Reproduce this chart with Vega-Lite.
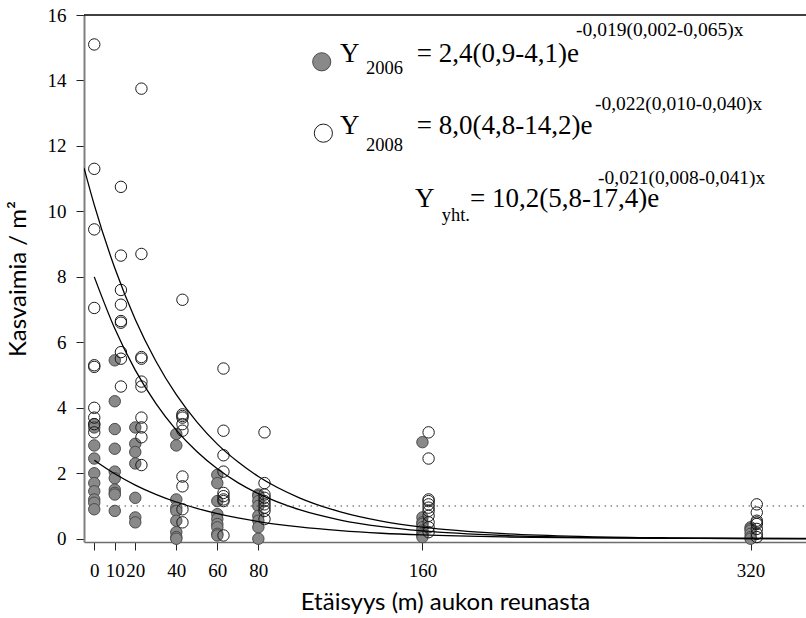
{
  "$schema": "https://vega.github.io/schema/vega-lite/v6.json",
  "width": 722,
  "height": 527,
  "autosize": {"type": "none"},
  "padding": {"left": 84, "top": 15, "right": 0, "bottom": 76},
  "background": "white",
  "config": {
    "font": "Liberation Serif",
    "view": {"stroke": null},
    "style": {"guide-label": {"font": "Liberation Serif"}, "guide-title": {"font": "Lato"}},
    "axis": {"grid": false, "labelColor": "black", "titleColor": "black", "tickColor": "#222222", "labelFont": "Liberation Serif", "titleFont": "Lato", "titleFontWeight": "normal"}
  },
  "datasets": {
    "pts": [
      {"x": 0, "y": 3.5, "year": "2006"}, {"x": 0, "y": 3.4, "year": "2006"}, {"x": 0, "y": 2.85, "year": "2006"}, {"x": 0, "y": 2.45, "year": "2006"}, {"x": 0, "y": 2.0, "year": "2006"}, {"x": 0, "y": 1.7, "year": "2006"}, {"x": 0, "y": 1.45, "year": "2006"}, {"x": 0, "y": 1.2, "year": "2006"}, {"x": 0, "y": 1.1, "year": "2006"}, {"x": 0, "y": 0.9, "year": "2006"},
      {"x": 10, "y": 5.45, "year": "2006"}, {"x": 10, "y": 4.2, "year": "2006"}, {"x": 10, "y": 3.35, "year": "2006"}, {"x": 10, "y": 2.75, "year": "2006"}, {"x": 10, "y": 2.05, "year": "2006"}, {"x": 10, "y": 1.85, "year": "2006"}, {"x": 10, "y": 1.5, "year": "2006"}, {"x": 10, "y": 1.4, "year": "2006"}, {"x": 10, "y": 1.35, "year": "2006"}, {"x": 10, "y": 0.85, "year": "2006"},
      {"x": 20, "y": 3.4, "year": "2006"}, {"x": 20, "y": 2.9, "year": "2006"}, {"x": 20, "y": 2.65, "year": "2006"}, {"x": 20, "y": 2.3, "year": "2006"}, {"x": 20, "y": 1.25, "year": "2006"}, {"x": 20, "y": 0.65, "year": "2006"}, {"x": 20, "y": 0.5, "year": "2006"},
      {"x": 40, "y": 3.2, "year": "2006"}, {"x": 40, "y": 2.85, "year": "2006"}, {"x": 40, "y": 1.2, "year": "2006"}, {"x": 40, "y": 0.95, "year": "2006"}, {"x": 40, "y": 0.85, "year": "2006"}, {"x": 40, "y": 0.55, "year": "2006"}, {"x": 40, "y": 0.2, "year": "2006"}, {"x": 40, "y": 0.05, "year": "2006"}, {"x": 40, "y": 0.0, "year": "2006"},
      {"x": 60, "y": 1.95, "year": "2006"}, {"x": 60, "y": 1.7, "year": "2006"}, {"x": 60, "y": 1.15, "year": "2006"}, {"x": 60, "y": 0.75, "year": "2006"}, {"x": 60, "y": 0.6, "year": "2006"}, {"x": 60, "y": 0.45, "year": "2006"}, {"x": 60, "y": 0.35, "year": "2006"}, {"x": 60, "y": 0.15, "year": "2006"}, {"x": 60, "y": 0.1, "year": "2006"},
      {"x": 80, "y": 1.35, "year": "2006"}, {"x": 80, "y": 1.3, "year": "2006"}, {"x": 80, "y": 1.15, "year": "2006"}, {"x": 80, "y": 1.0, "year": "2006"}, {"x": 80, "y": 0.7, "year": "2006"}, {"x": 80, "y": 0.55, "year": "2006"}, {"x": 80, "y": 0.35, "year": "2006"}, {"x": 80, "y": 0.0, "year": "2006"},
      {"x": 160, "y": 2.95, "year": "2006"}, {"x": 160, "y": 0.65, "year": "2006"}, {"x": 160, "y": 0.5, "year": "2006"}, {"x": 160, "y": 0.45, "year": "2006"}, {"x": 160, "y": 0.35, "year": "2006"}, {"x": 160, "y": 0.25, "year": "2006"}, {"x": 160, "y": 0.15, "year": "2006"}, {"x": 160, "y": 0.1, "year": "2006"}, {"x": 160, "y": 0.05, "year": "2006"},
      {"x": 320, "y": 0.35, "year": "2006"}, {"x": 320, "y": 0.3, "year": "2006"}, {"x": 320, "y": 0.25, "year": "2006"}, {"x": 320, "y": 0.15, "year": "2006"}, {"x": 320, "y": 0.05, "year": "2006"}, {"x": 320, "y": 0.0, "year": "2006"},
      {"x": 0, "y": 15.1, "year": "2008"}, {"x": 0, "y": 11.3, "year": "2008"}, {"x": 0, "y": 9.45, "year": "2008"}, {"x": 0, "y": 7.05, "year": "2008"}, {"x": 0, "y": 5.3, "year": "2008"}, {"x": 0, "y": 5.25, "year": "2008"}, {"x": 0, "y": 4.0, "year": "2008"}, {"x": 0, "y": 3.7, "year": "2008"}, {"x": 0, "y": 3.5, "year": "2008"}, {"x": 0, "y": 3.25, "year": "2008"},
      {"x": 13, "y": 10.75, "year": "2008"}, {"x": 13, "y": 8.65, "year": "2008"}, {"x": 13, "y": 7.6, "year": "2008"}, {"x": 13, "y": 7.15, "year": "2008"}, {"x": 13, "y": 6.65, "year": "2008"}, {"x": 13, "y": 6.6, "year": "2008"}, {"x": 13, "y": 5.7, "year": "2008"}, {"x": 13, "y": 5.5, "year": "2008"}, {"x": 13, "y": 4.65, "year": "2008"},
      {"x": 23, "y": 13.75, "year": "2008"}, {"x": 23, "y": 8.7, "year": "2008"}, {"x": 23, "y": 5.55, "year": "2008"}, {"x": 23, "y": 5.5, "year": "2008"}, {"x": 23, "y": 4.8, "year": "2008"}, {"x": 23, "y": 4.65, "year": "2008"}, {"x": 23, "y": 3.7, "year": "2008"}, {"x": 23, "y": 3.4, "year": "2008"}, {"x": 23, "y": 3.1, "year": "2008"}, {"x": 23, "y": 2.25, "year": "2008"},
      {"x": 43, "y": 7.3, "year": "2008"}, {"x": 43, "y": 3.8, "year": "2008"}, {"x": 43, "y": 3.75, "year": "2008"}, {"x": 43, "y": 3.7, "year": "2008"}, {"x": 43, "y": 3.5, "year": "2008"}, {"x": 43, "y": 3.3, "year": "2008"}, {"x": 43, "y": 1.9, "year": "2008"}, {"x": 43, "y": 1.6, "year": "2008"}, {"x": 43, "y": 0.9, "year": "2008"}, {"x": 43, "y": 0.5, "year": "2008"},
      {"x": 63, "y": 5.2, "year": "2008"}, {"x": 63, "y": 3.3, "year": "2008"}, {"x": 63, "y": 2.55, "year": "2008"}, {"x": 63, "y": 2.05, "year": "2008"}, {"x": 63, "y": 1.4, "year": "2008"}, {"x": 63, "y": 1.3, "year": "2008"}, {"x": 63, "y": 1.2, "year": "2008"}, {"x": 63, "y": 1.15, "year": "2008"}, {"x": 63, "y": 0.1, "year": "2008"},
      {"x": 83, "y": 3.25, "year": "2008"}, {"x": 83, "y": 1.7, "year": "2008"}, {"x": 83, "y": 1.35, "year": "2008"}, {"x": 83, "y": 1.25, "year": "2008"}, {"x": 83, "y": 1.15, "year": "2008"}, {"x": 83, "y": 1.05, "year": "2008"}, {"x": 83, "y": 0.95, "year": "2008"}, {"x": 83, "y": 0.85, "year": "2008"}, {"x": 83, "y": 0.6, "year": "2008"},
      {"x": 163, "y": 3.25, "year": "2008"}, {"x": 163, "y": 2.45, "year": "2008"}, {"x": 163, "y": 1.2, "year": "2008"}, {"x": 163, "y": 1.15, "year": "2008"}, {"x": 163, "y": 1.05, "year": "2008"}, {"x": 163, "y": 0.95, "year": "2008"}, {"x": 163, "y": 0.85, "year": "2008"}, {"x": 163, "y": 0.7, "year": "2008"}, {"x": 163, "y": 0.5, "year": "2008"}, {"x": 163, "y": 0.35, "year": "2008"}, {"x": 163, "y": 0.2, "year": "2008"},
      {"x": 323, "y": 1.05, "year": "2008"}, {"x": 323, "y": 0.8, "year": "2008"}, {"x": 323, "y": 0.55, "year": "2008"}, {"x": 323, "y": 0.5, "year": "2008"}, {"x": 323, "y": 0.45, "year": "2008"}, {"x": 323, "y": 0.3, "year": "2008"}, {"x": 323, "y": 0.15, "year": "2008"}, {"x": 323, "y": 0.05, "year": "2008"}
    ],
    "curves": [
      {"x": 0, "y": 2.4, "s": "2006"}, {"x": 10, "y": 1.985, "s": "2006"}, {"x": 20, "y": 1.64, "s": "2006"}, {"x": 30, "y": 1.357, "s": "2006"}, {"x": 40, "y": 1.122, "s": "2006"}, {"x": 50, "y": 0.928, "s": "2006"}, {"x": 60, "y": 0.768, "s": "2006"}, {"x": 70, "y": 0.635, "s": "2006"}, {"x": 80, "y": 0.525, "s": "2006"}, {"x": 100, "y": 0.359, "s": "2006"}, {"x": 120, "y": 0.246, "s": "2006"}, {"x": 140, "y": 0.168, "s": "2006"}, {"x": 160, "y": 0.115, "s": "2006"}, {"x": 200, "y": 0.054, "s": "2006"}, {"x": 240, "y": 0.025, "s": "2006"}, {"x": 280, "y": 0.012, "s": "2006"}, {"x": 320, "y": 0.006, "s": "2006"}, {"x": 347, "y": 0.003, "s": "2006"},
      {"x": 0, "y": 8.0, "s": "2008"}, {"x": 10, "y": 6.42, "s": "2008"}, {"x": 20, "y": 5.15, "s": "2008"}, {"x": 30, "y": 4.135, "s": "2008"}, {"x": 40, "y": 3.318, "s": "2008"}, {"x": 50, "y": 2.663, "s": "2008"}, {"x": 60, "y": 2.137, "s": "2008"}, {"x": 70, "y": 1.715, "s": "2008"}, {"x": 80, "y": 1.376, "s": "2008"}, {"x": 100, "y": 0.886, "s": "2008"}, {"x": 120, "y": 0.571, "s": "2008"}, {"x": 140, "y": 0.368, "s": "2008"}, {"x": 160, "y": 0.237, "s": "2008"}, {"x": 200, "y": 0.098, "s": "2008"}, {"x": 240, "y": 0.041, "s": "2008"}, {"x": 280, "y": 0.017, "s": "2008"}, {"x": 320, "y": 0.007, "s": "2008"}, {"x": 347, "y": 0.004, "s": "2008"},
      {"x": -5, "y": 11.33, "s": "yht"}, {"x": 0, "y": 10.2, "s": "yht"}, {"x": 10, "y": 8.27, "s": "yht"}, {"x": 20, "y": 6.7, "s": "yht"}, {"x": 30, "y": 5.43, "s": "yht"}, {"x": 40, "y": 4.4, "s": "yht"}, {"x": 50, "y": 3.57, "s": "yht"}, {"x": 60, "y": 2.89, "s": "yht"}, {"x": 70, "y": 2.35, "s": "yht"}, {"x": 80, "y": 1.9, "s": "yht"}, {"x": 100, "y": 1.25, "s": "yht"}, {"x": 120, "y": 0.821, "s": "yht"}, {"x": 140, "y": 0.539, "s": "yht"}, {"x": 160, "y": 0.354, "s": "yht"}, {"x": 200, "y": 0.153, "s": "yht"}, {"x": 240, "y": 0.066, "s": "yht"}, {"x": 280, "y": 0.028, "s": "yht"}, {"x": 320, "y": 0.012, "s": "yht"}, {"x": 347, "y": 0.007, "s": "yht"}
    ],
    "legendpts": [
      {"x": 110.9, "y": 14.57, "year": "2006"},
      {"x": 111.7, "y": 12.39, "year": "2008"}
    ],
    "maintext": [
      {"x": 119.8, "y": 14.57, "t": "Y"}, {"x": 157.2, "y": 14.57, "t": "= 2,4(0,9-4,1)e"},
      {"x": 119.8, "y": 12.36, "t": "Y"}, {"x": 157.2, "y": 12.36, "t": "= 8,0(4,8-14,2)e"},
      {"x": 156.4, "y": 10.12, "t": "Y"}, {"x": 183.2, "y": 10.12, "t": "= 10,2(5,8-17,4)e"}
    ],
    "subtext": [
      {"x": 132.5, "y": 14.2, "t": "2006"},
      {"x": 132.5, "y": 11.85, "t": "2008"},
      {"x": 169.4, "y": 9.72, "t": "yht."}
    ],
    "suptext": [
      {"x": 234.9, "y": 15.37, "t": "-0,019(0,002-0,065)x"},
      {"x": 244.1, "y": 13.09, "t": "-0,022(0,010-0,040)x"},
      {"x": 245.6, "y": 10.85, "t": "-0,021(0,008-0,041)x"}
    ],
    "one": [{}]
  },
  "layer": [
    {
      "data": {"name": "pts"},
      "transform": [{"filter": "datum.year == '2006'"}],
      "mark": {"type": "circle", "fill": "#898989", "stroke": "#4a4a4a", "strokeWidth": 1, "size": 130, "opacity": 1, "fillOpacity": 1},
      "encoding": {
        "x": {"field": "x", "type": "quantitative", "scale": {"domain": [-5, 347], "nice": false, "zero": false},
          "axis": {"values": [0, 10, 20, 40, 60, 80, 160, 320], "title": "Etäisyys (m) aukon reunasta", "domainColor": "#6e6e6e", "domainWidth": 1.5, "tickSize": 8, "tickWidth": 1, "labelFont": "Liberation Serif", "labelFontSize": 19, "labelPadding": 11, "labelOverlap": false, "labelFlush": false, "titleFont": "Lato", "titleFontSize": 24, "titlePadding": 10}},
        "y": {"field": "y", "type": "quantitative", "scale": {"domain": [-0.1, 16], "nice": false, "zero": false},
          "axis": {"values": [0, 2, 4, 6, 8, 10, 12, 14, 16], "title": "Kasvaimia / m²", "domainColor": "#808080", "domainWidth": 2, "tickSize": 8, "tickWidth": 1, "labelFont": "Liberation Serif", "labelFontSize": 19, "labelPadding": 10, "labelOverlap": false, "labelFlush": false, "titleFont": "Lato", "titleFontSize": 24, "titlePadding": 17}}
      }
    },
    {
      "data": {"name": "pts"},
      "transform": [{"filter": "datum.year == '2008'"}],
      "mark": {"type": "point", "shape": "circle", "filled": false, "stroke": "#1a1a1a", "strokeWidth": 1, "size": 130, "opacity": 1},
      "encoding": {
        "x": {"field": "x", "type": "quantitative"},
        "y": {"field": "y", "type": "quantitative"}
      }
    },
    {
      "data": {"name": "curves"},
      "mark": {"type": "line", "stroke": "black", "strokeWidth": 1.3, "interpolate": "monotone", "clip": true},
      "encoding": {
        "x": {"field": "x", "type": "quantitative"},
        "y": {"field": "y", "type": "quantitative"},
        "detail": {"field": "s"}
      }
    },
    {
      "data": {"name": "one"},
      "mark": {"type": "rule", "stroke": "#444444", "strokeWidth": 1, "strokeDash": [1.5, 4.5]},
      "encoding": {"x": {"datum": 6}, "x2": {"datum": 347}, "y": {"datum": 1}}
    },
    {
      "data": {"name": "one"},
      "mark": {"type": "rule", "stroke": "black", "strokeWidth": 1.3},
      "encoding": {"y": {"datum": 16}}
    },
    {
      "data": {"name": "legendpts"},
      "transform": [{"filter": "datum.year == '2006'"}],
      "mark": {"type": "circle", "fill": "#898989", "stroke": "#4a4a4a", "strokeWidth": 1, "size": 330, "opacity": 1},
      "encoding": {"x": {"field": "x", "type": "quantitative"}, "y": {"field": "y", "type": "quantitative"}}
    },
    {
      "data": {"name": "legendpts"},
      "transform": [{"filter": "datum.year == '2008'"}],
      "mark": {"type": "point", "shape": "circle", "filled": false, "stroke": "#1a1a1a", "strokeWidth": 1, "size": 330, "opacity": 1},
      "encoding": {"x": {"field": "x", "type": "quantitative"}, "y": {"field": "y", "type": "quantitative"}}
    },
    {
      "data": {"name": "maintext"},
      "mark": {"type": "text", "font": "Liberation Serif", "fontSize": 27, "align": "left", "baseline": "alphabetic", "color": "black"},
      "encoding": {"x": {"field": "x", "type": "quantitative"}, "y": {"field": "y", "type": "quantitative"}, "text": {"field": "t"}}
    },
    {
      "data": {"name": "subtext"},
      "mark": {"type": "text", "font": "Liberation Serif", "fontSize": 18.5, "align": "left", "baseline": "alphabetic", "color": "black"},
      "encoding": {"x": {"field": "x", "type": "quantitative"}, "y": {"field": "y", "type": "quantitative"}, "text": {"field": "t"}}
    },
    {
      "data": {"name": "suptext"},
      "mark": {"type": "text", "font": "Liberation Serif", "fontSize": 19.5, "align": "left", "baseline": "alphabetic", "color": "black"},
      "encoding": {"x": {"field": "x", "type": "quantitative"}, "y": {"field": "y", "type": "quantitative"}, "text": {"field": "t"}}
    }
  ]
}
